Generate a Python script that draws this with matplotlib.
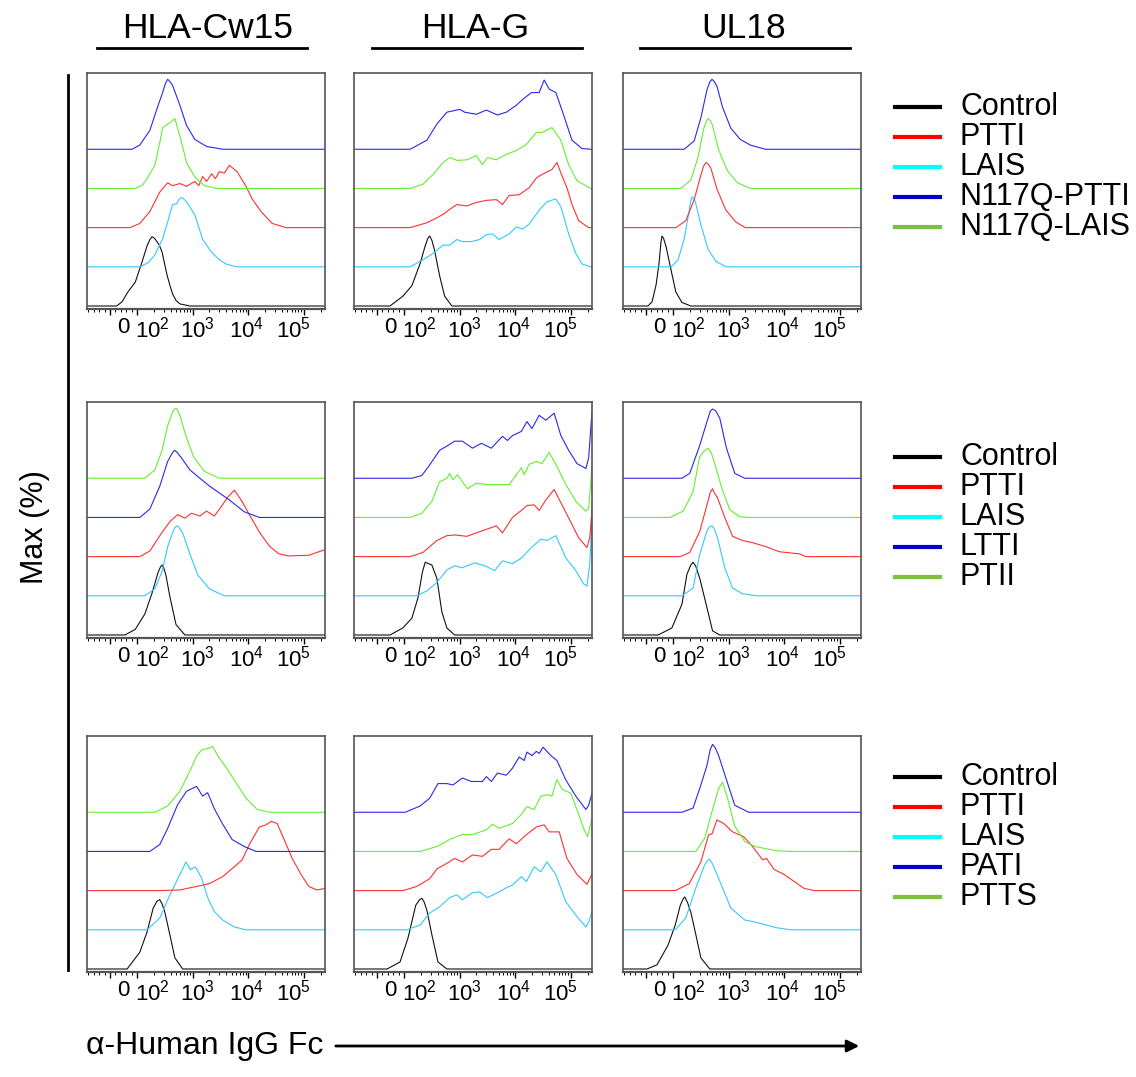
import numpy as np
import matplotlib.pyplot as plt
from matplotlib.transforms import ScaledTranslation

plt.rcParams['font.family'] = ['Liberation Sans', 'DejaVu Sans']
plt.rcParams['mathtext.default'] = 'regular'

# column headers, legend names
headers = ['HLA-Cw15', 'HLA-G', 'UL18']
legend_names = [
    ['Control', 'PTTI', 'LAIS', 'N117Q-PTTI', 'N117Q-LAIS'],
    ['Control', 'PTTI', 'LAIS', 'LTTI', 'PTII'],
    ['Control', 'PTTI', 'LAIS', 'PATI', 'PTTS'],
]
legend_colors = ['#000000', '#ff0000', '#00ffff', '#0000cc', '#7ac143']

# histogram traces: x = log10 fluorescence, y = % of max
# ---- row 1 ----
a1_ctrl_x = [1.39, 1.65, 1.82, 1.97, 2.09, 2.18, 2.23, 2.27, 2.31, 2.34, 2.40, 2.45, 2.54, 2.60, 2.64,
             2.70, 2.77, 2.95]
a1_ctrl_y = [0, 6, 20, 34, 63, 86, 95, 99, 97, 94, 87, 77, 44, 27, 17, 8, 3, 0]
a1_lais_x = [2.05, 2.20, 2.32, 2.46, 2.55, 2.64, 2.71, 2.76, 2.80, 2.84, 2.89, 3.04, 3.18, 3.34,
             3.48, 3.60, 3.79]
a1_lais_y = [0, 6, 17, 40, 64, 89, 90, 97, 99, 97, 93, 74, 39, 21, 10, 4, 0]
a1_ptti_x = [1.87, 2.05, 2.23, 2.41, 2.55, 2.64, 2.77, 2.89, 3.04, 3.11, 3.18, 3.25, 3.34, 3.41,
             3.48, 3.57, 3.66, 3.80, 3.96, 4.07, 4.23, 4.43, 4.68]
a1_ptti_y = [0, 6, 23, 51, 64, 60, 63, 59, 66, 60, 73, 66, 77, 70, 80, 78, 89, 80, 59, 41, 23, 6, 0]
a1_nlais_x = [1.97, 2.10, 2.18, 2.32, 2.41, 2.46, 2.59, 2.64, 2.68, 2.73, 2.80, 2.89, 3.04, 3.21, 3.43]
a1_nlais_y = [0, 5, 14, 33, 66, 87, 94, 97, 100, 86, 66, 37, 16, 4, 0]
a1_nptti_x = [1.91, 2.05, 2.23, 2.38, 2.46, 2.51, 2.55, 2.59, 2.64, 2.77, 2.89, 3.04, 3.25, 3.54]
a1_nptti_y = [0, 6, 27, 63, 81, 94, 100, 97, 91, 63, 34, 14, 4, 0]

b1_ctrl_x = [1.68, 1.98, 2.14, 2.29, 2.38, 2.43, 2.46, 2.50, 2.55, 2.64, 2.73, 2.86]
b1_ctrl_y = [0, 14, 29, 61, 86, 97, 100, 94, 79, 43, 14, 0]
b1_lais_x = [2.11, 2.34, 2.52, 2.70, 2.82, 2.95, 3.05, 3.21, 3.36, 3.48, 3.59, 3.71, 3.89, 4.02,
             4.13, 4.25, 4.43, 4.57, 4.73, 4.82, 4.96, 5.09, 5.20, 5.36]
b1_lais_y = [0, 10, 19, 31, 31, 39, 36, 36, 39, 46, 47, 39, 47, 57, 54, 61, 81, 93, 97, 86, 47, 19, 4, 0]
b1_ptti_x = [2.11, 2.41, 2.59, 2.70, 2.82, 2.95, 3.13, 3.30, 3.48, 3.66, 3.77, 3.89, 4.07, 4.25,
             4.38, 4.48, 4.66, 4.75, 4.84, 4.93, 5.02, 5.14, 5.32]
b1_ptti_y = [0, 7, 14, 19, 26, 33, 31, 36, 39, 40, 33, 46, 47, 57, 71, 76, 83, 93, 74, 57, 33, 10, 0]
b1_nlais_x = [2.11, 2.34, 2.52, 2.70, 2.82, 2.96, 3.14, 3.30, 3.41, 3.50, 3.66, 3.84, 4.02, 4.20,
              4.38, 4.48, 4.66, 4.82, 4.96, 5.11, 5.36]
b1_nlais_y = [0, 6, 20, 37, 44, 40, 41, 47, 34, 44, 41, 49, 54, 63, 80, 80, 87, 69, 34, 11, 0]
b1_nptti_x = [2.11, 2.41, 2.59, 2.77, 3.00, 3.09, 3.30, 3.48, 3.68, 3.84, 4.02, 4.13, 4.29, 4.43,
              4.52, 4.61, 4.73, 4.84, 5.02, 5.20, 5.36]
b1_nptti_y = [0, 13, 36, 53, 57, 53, 50, 56, 49, 53, 63, 71, 81, 81, 99, 86, 81, 56, 13, 1, 0]

c1_ctrl_x = [0.87, 1.35, 1.57, 1.68, 1.74, 1.77, 1.81, 1.87, 1.97, 2.05, 2.16, 2.32]
c1_ctrl_y = [0, 6, 30, 60, 90, 100, 97, 85, 50, 20, 5, 0]
c1_lais_x = [1.97, 2.09, 2.20, 2.29, 2.32, 2.34, 2.38, 2.41, 2.50, 2.63, 2.77, 2.95]
c1_lais_y = [0, 10, 40, 80, 95, 100, 97, 90, 60, 25, 8, 0]
c1_ptti_x = [2.05, 2.23, 2.38, 2.50, 2.55, 2.59, 2.63, 2.68, 2.79, 2.95, 3.13, 3.30]
c1_ptti_y = [0, 10, 40, 75, 88, 93, 91, 85, 55, 25, 8, 0]
c1_nlais_x = [2.14, 2.32, 2.45, 2.55, 2.60, 2.63, 2.67, 2.71, 2.82, 2.98, 3.16, 3.39]
c1_nlais_y = [0, 12, 45, 85, 96, 100, 97, 90, 55, 25, 8, 0]
c1_nptti_x = [2.20, 2.38, 2.50, 2.61, 2.66, 2.70, 2.74, 2.79, 2.89, 3.04, 3.21, 3.39, 3.66]
c1_nptti_y = [0, 12, 45, 85, 96, 100, 97, 90, 60, 30, 14, 6, 0]

# ---- row 2 ----
a2_ctrl_x = [1.74, 1.97, 2.14, 2.27, 2.38, 2.42, 2.45, 2.48, 2.52, 2.59, 2.70, 2.86]
a2_ctrl_y = [0, 8, 30, 60, 90, 97, 100, 96, 85, 55, 15, 0]
a2_lais_x = [2.14, 2.32, 2.45, 2.55, 2.66, 2.70, 2.73, 2.77, 2.82, 2.95, 3.09, 3.30, 3.57]
a2_lais_y = [0, 10, 35, 70, 95, 99, 100, 96, 90, 60, 30, 10, 0]
a2_ptti_x = [2.05, 2.23, 2.41, 2.59, 2.73, 2.86, 2.98, 3.13, 3.25, 3.39, 3.52, 3.63, 3.75, 3.88,
             4.02, 4.20, 4.38, 4.55, 4.73, 5.09, 5.38]
a2_ptti_y = [0, 8, 30, 50, 60, 55, 62, 58, 65, 58, 72, 85, 95, 80, 60, 35, 15, 4, 1, 2, 10]
a2_ltti_x = [2.05, 2.23, 2.41, 2.55, 2.64, 2.68, 2.72, 2.80, 2.95, 3.13, 3.30, 3.48, 3.66, 3.93, 4.20]
a2_ltti_y = [0, 12, 45, 80, 93, 96, 93, 85, 68, 56, 45, 35, 25, 8, 0]
a2_ptii_x = [2.14, 2.32, 2.45, 2.55, 2.64, 2.67, 2.70, 2.73, 2.77, 2.88, 3.02, 3.21, 3.48]
a2_ptii_y = [0, 12, 40, 75, 95, 99, 100, 97, 90, 60, 30, 10, 0]

b2_ctrl_x = [1.68, 1.98, 2.14, 2.25, 2.33, 2.38, 2.44, 2.50, 2.59, 2.68, 2.77, 2.91]
b2_ctrl_y = [0, 10, 24, 53, 90, 104, 102, 100, 81, 33, 10, 0]
b2_lais_x = [2.23, 2.41, 2.59, 2.77, 2.91, 3.04, 3.27, 3.45, 3.63, 3.77, 3.95, 4.11, 4.29, 4.46,
             4.57, 4.73, 4.91, 5.09, 5.23, 5.29, 5.34, 5.38]
b2_lais_y = [0, 7, 19, 37, 43, 40, 47, 43, 36, 50, 46, 54, 69, 81, 79, 86, 54, 36, 17, 14, 46, 110]
b2_ptti_x = [2.11, 2.34, 2.59, 2.77, 2.91, 3.13, 3.30, 3.48, 3.66, 3.77, 3.95, 4.11, 4.21, 4.34,
             4.43, 4.55, 4.70, 4.84, 5.02, 5.14, 5.29, 5.34, 5.38]
b2_ptti_y = [0, 6, 23, 30, 31, 29, 34, 39, 44, 34, 56, 66, 73, 74, 66, 81, 96, 74, 46, 27, 13, 27, 67]
b2_nlais_x = [2.11, 2.32, 2.50, 2.64, 2.77, 2.82, 2.88, 2.96, 3.14, 3.30, 3.48, 3.66, 3.89, 4.02,
              4.11, 4.16, 4.25, 4.38, 4.48, 4.61, 4.73, 4.91, 5.09, 5.27, 5.32, 5.38]
b2_nlais_y = [0, 6, 23, 51, 56, 63, 54, 61, 41, 49, 47, 47, 47, 61, 71, 61, 76, 80, 77, 93, 76, 47,
              23, 9, 13, 73]
b2_nptti_x = [2.14, 2.32, 2.46, 2.64, 2.77, 2.91, 3.05, 3.23, 3.39, 3.57, 3.77, 3.86, 3.95, 4.11,
              4.21, 4.30, 4.43, 4.55, 4.70, 4.82, 4.96, 5.11, 5.27, 5.32, 5.38]
b2_nptti_y = [0, 4, 19, 40, 46, 53, 53, 43, 50, 43, 60, 54, 61, 67, 81, 71, 90, 83, 93, 61, 40, 21,
              14, 29, 96]

c2_ctrl_x = [1.65, 1.98, 2.16, 2.25, 2.32, 2.36, 2.41, 2.48, 2.61, 2.71, 2.84]
c2_ctrl_y = [0, 10, 44, 87, 100, 104, 98, 81, 39, 6, 0]
c2_lais_x = [2.16, 2.36, 2.48, 2.61, 2.66, 2.70, 2.74, 2.80, 2.93, 3.07, 3.25, 3.50]
c2_lais_y = [0, 11, 59, 93, 99, 100, 96, 83, 40, 11, 3, 0]
c2_ptti_x = [2.13, 2.30, 2.48, 2.61, 2.67, 2.71, 2.75, 2.80, 2.93, 3.07, 3.25, 3.43, 3.68, 3.91,
             4.27, 4.39]
c2_ptti_y = [0, 6, 36, 74, 92, 97, 90, 84, 56, 29, 23, 20, 14, 7, 4, 0]
c2_nlais_x = [1.95, 2.18, 2.36, 2.48, 2.56, 2.63, 2.69, 2.75, 2.88, 3.02, 3.20, 3.38]
c2_nlais_y = [0, 9, 37, 87, 95, 99, 92, 77, 41, 11, 1, 0]
c2_nptti_x = [2.16, 2.30, 2.48, 2.61, 2.67, 2.71, 2.77, 2.84, 2.96, 3.11, 3.29]
c2_nptti_y = [0, 7, 47, 81, 96, 99, 96, 86, 43, 7, 0]

# ---- row 3 ----
a3_ctrl_x = [1.80, 2.05, 2.18, 2.29, 2.36, 2.41, 2.45, 2.50, 2.59, 2.68, 2.82]
a3_ctrl_y = [0, 24, 53, 87, 97, 99, 93, 81, 49, 16, 0]
a3_lais_x = [2.18, 2.41, 2.59, 2.77, 2.88, 2.96, 3.05, 3.16, 3.27, 3.39, 3.54, 3.75, 3.96]
a3_lais_y = [0, 17, 50, 79, 97, 86, 90, 74, 46, 26, 14, 4, 0]
a3_ptti_x = [2.38, 2.77, 3.07, 3.30, 3.54, 3.79, 3.89, 4.02, 4.20, 4.32, 4.41, 4.52, 4.64, 4.79,
             4.95, 5.09, 5.23, 5.38]
a3_ptti_y = [0, 1, 6, 10, 20, 37, 44, 66, 91, 94, 99, 96, 74, 46, 23, 6, 1, 3]
a3_pati_x = [2.23, 2.41, 2.55, 2.73, 2.89, 3.07, 3.18, 3.27, 3.39, 3.54, 3.71, 3.93, 4.14]
a3_pati_y = [0, 10, 33, 67, 86, 93, 79, 84, 61, 39, 17, 7, 0]
a3_ptts_x = [2.32, 2.55, 2.77, 2.95, 3.07, 3.16, 3.27, 3.36, 3.45, 3.61, 3.79, 3.96, 4.16, 4.38]
a3_ptts_y = [0, 9, 30, 59, 80, 89, 91, 94, 81, 63, 41, 20, 4, 0]

b3_ctrl_x = [1.57, 1.93, 2.07, 2.21, 2.28, 2.32, 2.36, 2.41, 2.50, 2.61, 2.77]
b3_ctrl_y = [0, 10, 44, 91, 99, 101, 96, 84, 49, 10, 0]
b3_lais_x = [2.05, 2.29, 2.46, 2.64, 2.82, 2.95, 3.05, 3.23, 3.36, 3.50, 3.68, 3.84, 3.95, 4.11,
             4.20, 4.34, 4.46, 4.57, 4.73, 4.91, 5.09, 5.27, 5.32, 5.38]
b3_lais_y = [0, 7, 24, 33, 46, 50, 43, 53, 54, 46, 53, 60, 64, 76, 69, 90, 83, 97, 79, 40, 21, 4, 11, 26]
b3_ptti_x = [1.98, 2.23, 2.46, 2.59, 2.77, 2.91, 3.05, 3.23, 3.41, 3.57, 3.71, 3.89, 4.02, 4.20,
             4.38, 4.52, 4.61, 4.79, 4.93, 5.11, 5.29, 5.38]
b3_ptti_y = [0, 6, 17, 31, 39, 46, 41, 51, 49, 59, 59, 74, 67, 80, 91, 94, 84, 84, 46, 23, 9, 24]
b3_ptts_x = [2.29, 2.59, 2.82, 3.04, 3.23, 3.48, 3.59, 3.71, 3.95, 4.11, 4.21, 4.34, 4.46, 4.57,
             4.66, 4.75, 4.84, 5.00, 5.14, 5.23, 5.30, 5.38]
b3_ptts_y = [0, 7, 17, 24, 24, 31, 39, 33, 40, 53, 64, 60, 79, 81, 79, 103, 89, 83, 53, 33, 21, 47]
b3_pati_x = [2.02, 2.29, 2.46, 2.61, 2.77, 2.88, 3.05, 3.21, 3.41, 3.48, 3.57, 3.68, 3.84, 3.95,
             4.07, 4.16, 4.21, 4.30, 4.38, 4.43, 4.50, 4.64, 4.75, 4.91, 5.09, 5.27, 5.32, 5.38]
b3_pati_y = [0, 9, 20, 41, 41, 39, 49, 44, 44, 51, 44, 56, 53, 63, 79, 74, 86, 81, 87, 84, 93, 81,
             74, 46, 23, 4, 10, 27]

c3_ctrl_x = [0.57, 1.61, 1.91, 2.04, 2.13, 2.18, 2.21, 2.26, 2.32, 2.41, 2.50, 2.66]
c3_ctrl_y = [0, 6, 34, 63, 91, 100, 103, 95, 81, 49, 16, 0]
c3_lais_x = [2.04, 2.23, 2.41, 2.57, 2.62, 2.66, 2.71, 2.77, 2.89, 3.04, 3.29, 3.48, 3.86, 4.11]
c3_lais_y = [0, 17, 60, 93, 99, 101, 94, 83, 60, 31, 14, 11, 3, 0]
c3_ptti_x = [2.04, 2.29, 2.50, 2.64, 2.70, 2.79, 2.91, 3.07, 3.27, 3.43, 3.61, 3.68, 3.82, 3.98,
             4.18, 4.36, 4.55]
c3_ptti_y = [0, 10, 41, 80, 81, 101, 96, 84, 77, 63, 44, 46, 30, 24, 13, 3, 0]
c3_ptts_x = [2.41, 2.57, 2.70, 2.82, 2.89, 2.98, 3.11, 3.29, 3.48, 3.86, 4.11]
c3_ptts_y = [0, 19, 57, 90, 99, 76, 36, 14, 7, 1, 0]
c3_pati_x = [2.16, 2.36, 2.50, 2.61, 2.67, 2.71, 2.76, 2.82, 2.95, 3.11, 3.36]
c3_pati_y = [0, 6, 39, 67, 90, 97, 92, 81, 49, 10, 0]

# trace colours (plot) and stacking order bottom -> top
K, R, C, B, G = '#111111', '#ff3030', '#33c8ff', '#2828ee', '#66ee33'
panels = {
    (0, 0): [(a1_ctrl_x, a1_ctrl_y, K), (a1_lais_x, a1_lais_y, C), (a1_ptti_x, a1_ptti_y, R),
             (a1_nlais_x, a1_nlais_y, G), (a1_nptti_x, a1_nptti_y, B)],
    (0, 1): [(b1_ctrl_x, b1_ctrl_y, K), (b1_lais_x, b1_lais_y, C), (b1_ptti_x, b1_ptti_y, R),
             (b1_nlais_x, b1_nlais_y, G), (b1_nptti_x, b1_nptti_y, B)],
    (0, 2): [(c1_ctrl_x, c1_ctrl_y, K), (c1_lais_x, c1_lais_y, C), (c1_ptti_x, c1_ptti_y, R),
             (c1_nlais_x, c1_nlais_y, G), (c1_nptti_x, c1_nptti_y, B)],
    (1, 0): [(a2_ctrl_x, a2_ctrl_y, K), (a2_lais_x, a2_lais_y, C), (a2_ptti_x, a2_ptti_y, R),
             (a2_ltti_x, a2_ltti_y, B), (a2_ptii_x, a2_ptii_y, G)],
    (1, 1): [(b2_ctrl_x, b2_ctrl_y, K), (b2_lais_x, b2_lais_y, C), (b2_ptti_x, b2_ptti_y, R),
             (b2_nlais_x, b2_nlais_y, G), (b2_nptti_x, b2_nptti_y, B)],
    (1, 2): [(c2_ctrl_x, c2_ctrl_y, K), (c2_lais_x, c2_lais_y, C), (c2_ptti_x, c2_ptti_y, R),
             (c2_nlais_x, c2_nlais_y, G), (c2_nptti_x, c2_nptti_y, B)],
    (2, 0): [(a3_ctrl_x, a3_ctrl_y, K), (a3_lais_x, a3_lais_y, C), (a3_ptti_x, a3_ptti_y, R),
             (a3_pati_x, a3_pati_y, B), (a3_ptts_x, a3_ptts_y, G)],
    (2, 1): [(b3_ctrl_x, b3_ctrl_y, K), (b3_lais_x, b3_lais_y, C), (b3_ptti_x, b3_ptti_y, R),
             (b3_ptts_x, b3_ptts_y, G), (b3_pati_x, b3_pati_y, B)],
    (2, 2): [(c3_ctrl_x, c3_ctrl_y, K), (c3_lais_x, c3_lais_y, C), (c3_ptti_x, c3_ptti_y, R),
             (c3_ptts_x, c3_ptts_y, G), (c3_pati_x, c3_pati_y, B)],
}

X_LO, X_HI = -85, 2.4e5
STEP = 56  # vertical offset between stacked traces (% units)
major = [0, 1e2, 1e3, 1e4, 1e5]
major_lbl = ['0', '$10^{2}$', '$10^{3}$', '$10^{4}$', '$10^{5}$']
lbl_shift = [13, 15, 5, -2, -10]  # px
minor = ([-80, -60, -40, -20, 20, 40, 60, 80]
         + [m * 10 ** e for e in (2, 3, 4) for m in range(2, 10)] + [2e5])

W, H = 1136, 1077
fig = plt.figure(figsize=(W / 100, H / 100), dpi=100)
col_left = [87, 354, 623]
row_top = [73, 402, 736]
pw, ph = 238, 236

for (r, c), traces in panels.items():
    ax = fig.add_axes([col_left[c] / W, 1 - (row_top[r] + ph) / H, pw / W, ph / H])
    ax.set_xscale('symlog', linthresh=100, linscale=0.438)
    for k, (lx, h, col) in enumerate(traces):
        x = np.r_[X_LO, 10 ** np.array(lx), X_HI]
        y = np.r_[h[0], h, h[-1]] + k * STEP
        ax.plot(x, y, color=col, lw=0.8)
    ax.set_xlim(X_LO, X_HI)
    ax.set_ylim(-4.3, 333)
    ax.set_yticks([])
    ax.set_xticks(major)
    ax.set_xticklabels(major_lbl, fontsize=16)
    ax.set_xticks(minor, minor=True)
    ax.tick_params(axis='x', which='major', direction='out', length=4.5, width=1, pad=1)
    ax.tick_params(axis='x', which='minor', direction='out', length=2.5, width=0.7)
    for lab, dx in zip(ax.get_xticklabels(), lbl_shift):
        lab.set_transform(lab.get_transform() + ScaledTranslation(dx / 100, 0, fig.dpi_scale_trans))
    for s in ax.spines.values():
        s.set_color('#555555')
        s.set_linewidth(1.2)
    ax.spines['bottom'].set_linewidth(1.6)

# column headers with underline
line_left = [97, 372, 640]
for c, name in enumerate(headers):
    fig.text((col_left[c] + 121) / W, 1 - 28 / H, name, fontsize=25.5, ha='center', va='center')
    fig.add_artist(plt.Line2D([line_left[c] / W, (line_left[c] + 210) / W],
                              [1 - 48 / H, 1 - 48 / H], color='black', lw=2))

# legends
leg_top = [107, 457, 777]
for r in range(3):
    for i, (nm, col) in enumerate(zip(legend_names[r], legend_colors)):
        yy = 1 - (leg_top[r] + 30 * i) / H
        fig.add_artist(plt.Line2D([895 / W, 940 / W], [yy, yy], color=col, lw=3))
        fig.text(960 / W, yy, nm, fontsize=22, va='center', ha='left')

# y label and its bar
fig.text(35 / W, 1 - 527 / H, 'Max (%)', fontsize=22, rotation=90, ha='center', va='center')
fig.add_artist(plt.Line2D([68 / W, 68 / W], [1 - 75 / H, 1 - 970 / H], color='black', lw=2))

# x label with arrow
fig.text(86 / W, 1 - 1046 / H, 'α-Human IgG Fc', fontsize=23, ha='left', va='center')
fig.add_artist(plt.Annotation('', xy=(862 / W, 1 - 1046 / H), xytext=(333 / W, 1 - 1046 / H),
                              xycoords='figure fraction',
                              arrowprops=dict(arrowstyle='-|>', color='black', lw=2,
                                              mutation_scale=18)))

fig.savefig('out.png', dpi=100)
